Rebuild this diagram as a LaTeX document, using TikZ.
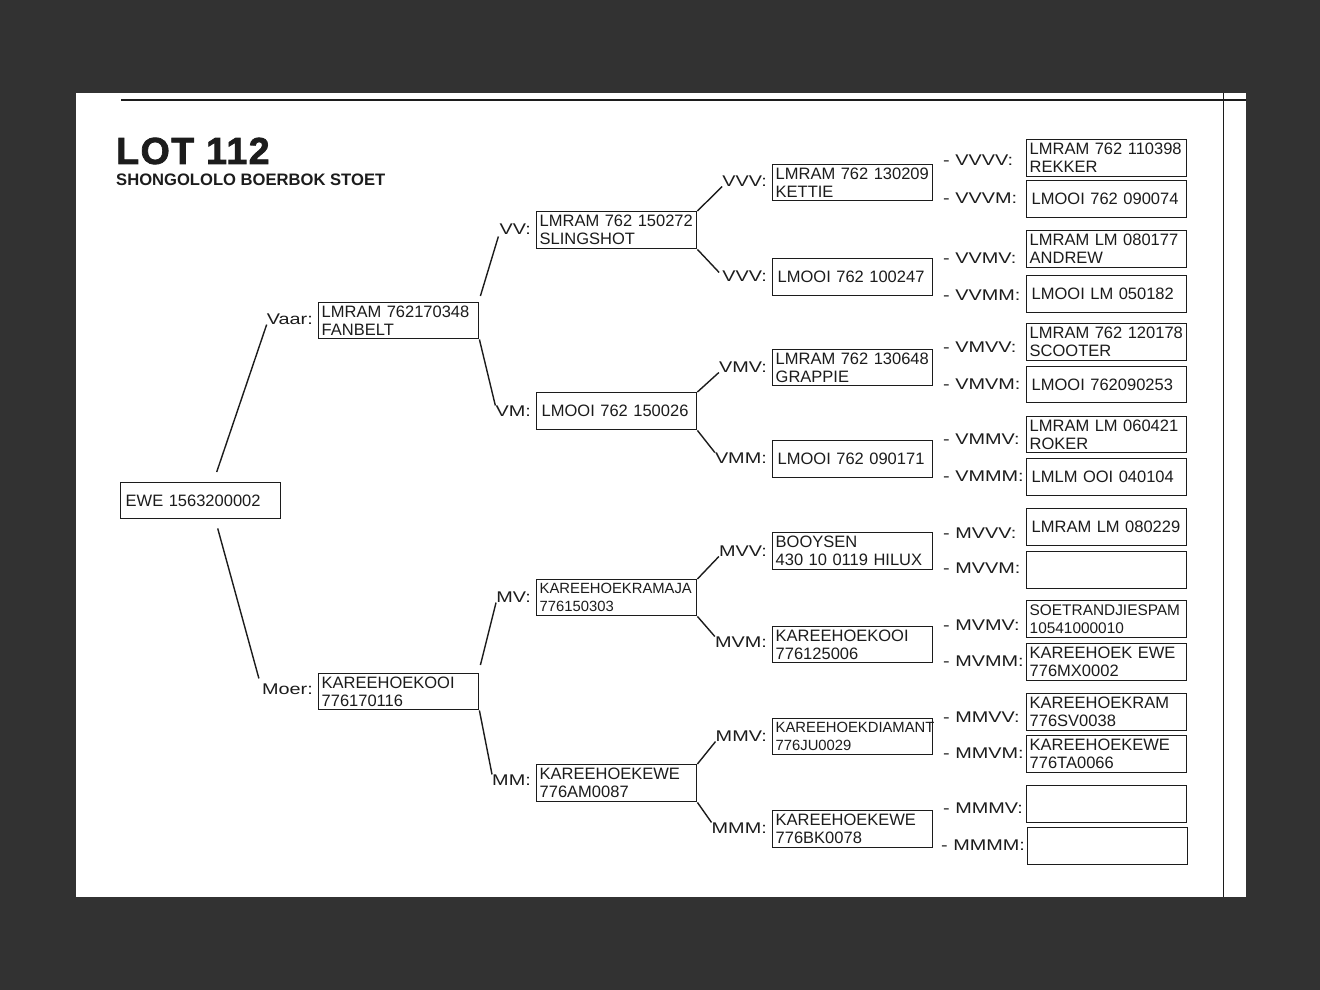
\documentclass[tikz,border=0pt]{standalone}
\usepackage{fontspec}
\setmainfont{Liberation Sans}
\newfontfamily\lblfont[FakeStretch=1.28]{Liberation Sans}
\newfontfamily\heavyfont{Liberation Sans}[BoldFeatures={FakeBold=2, LetterSpace=4}]
\usetikzlibrary{calc}
\definecolor{viewer}{RGB}{50,50,50}
\definecolor{ink}{RGB}{28,28,28}

\begin{document}
\begin{tikzpicture}[x=1pt, y=-1pt,
    box/.style={rectangle, draw=ink, line width=1.4pt, anchor=north west, minimum width=160pt, minimum height=37pt, text width=154pt, inner xsep=3pt, inner ysep=0pt, align=left, font=\fontsize{16.5}{18}\selectfont, text=ink},
    one/.style={inner xsep=5pt, text width=150pt},
    small/.style={font=\fontsize{14.8}{18}\selectfont},
    tag/.style={inner sep=0pt, font=\lblfont\fontsize{15.5}{18}\selectfont, text=ink},
    link/.style={draw=ink, line width=1.4pt},
]

% viewer and page
\fill[viewer] (0,0) rectangle (1320,990);
\fill[white] (76,93) rectangle (1246,897);
\draw[ink, line width=2pt] (121,100) -- (1246,100);
\draw[ink, line width=1pt] (1223,93) -- (1223,897);

% title
\node[anchor=west, inner sep=0pt, font=\heavyfont\bfseries\fontsize{37.5}{40}\selectfont, text=ink] (lot) at (116,151) {LOT 112};
\node[anchor=west, inner sep=0pt, font=\bfseries\fontsize{16.6}{18}\selectfont, text=ink] (stud) at (116,180) {SHONGOLOLO BOERBOK STOET};

% animal
\node[box, one, minimum height=36pt] (ewe) at (120,482) {EWE 1563200002};

% parents
\node[box, minimum height=36pt] (vaar) at (318,302) {LMRAM 762170348\\FANBELT};
\node[box, minimum height=36pt] (moer) at (318,673) {KAREEHOEKOOI\\776170116};
\node[tag, anchor=east] (lvaar) at (313,319) {Vaar:};
\node[tag, anchor=east] (lmoer) at (313,689) {Moer:};

% grandparents
\node[box] (vv) at (536,211) {LMRAM 762 150272\\SLINGSHOT};
\node[box, one] (vm) at (536,392) {LMOOI 762 150026};
\node[box, small, minimum height=36pt] (mv) at (536,579) {KAREEHOEKRAMAJA\\776150303};
\node[box] (mm) at (536,764) {KAREEHOEKEWE\\776AM0087};
\node[tag, anchor=east] (lvv) at (531,229) {VV:};
\node[tag, anchor=east] (lvm) at (531,411) {VM:};
\node[tag, anchor=east] (lmv) at (531,597) {MV:};
\node[tag, anchor=east] (lmm) at (531,780) {MM:};

% great-grandparents
\node[box, minimum height=36pt] (vvv) at (772,164) {LMRAM 762 130209\\KETTIE};
\node[box, one] (vvm) at (772,258) {LMOOI 762 100247};
\node[box, minimum height=36pt] (vmv) at (772,349) {LMRAM 762 130648\\GRAPPIE};
\node[box, one] (vmm) at (772,440) {LMOOI 762 090171};
\node[box] (mvv) at (772,532) {BOOYSEN\\430 10 0119 HILUX};
\node[box, minimum height=36pt] (mvm) at (772,626) {KAREEHOEKOOI\\776125006};
\node[box, small, minimum height=36pt] (mmv) at (772,718) {KAREEHOEKDIAMANT\\776JU0029};
\node[box] (mmm) at (772,810) {KAREEHOEKEWE\\776BK0078};
\node[tag, anchor=east] (lvvv) at (767,181) {VVV:};
\node[tag, anchor=east] (lvvm) at (767,276) {VVV:};
\node[tag, anchor=east] (lvmv) at (767,367) {VMV:};
\node[tag, anchor=east] (lvmm) at (767,458) {VMM:};
\node[tag, anchor=east] (lmvv) at (767,551) {MVV:};
\node[tag, anchor=east] (lmvm) at (767,642) {MVM:};
\node[tag, anchor=east] (lmmv) at (767,736) {MMV:};
\node[tag, anchor=east] (lmmm) at (767,828) {MMM:};

% great-great-grandparents
\node[box] (vvvv) at (1026,139) {LMRAM 762 110398\\REKKER};
\node[box, one] (vvvm) at (1026,180) {LMOOI 762 090074};
\node[box] (vvmv) at (1026,230) {LMRAM LM 080177\\ANDREW};
\node[box, one] (vvmm) at (1026,275) {LMOOI LM 050182};
\node[box] (vmvv) at (1026,323) {LMRAM 762 120178\\SCOOTER};
\node[box, one, minimum height=36pt] (vmvm) at (1026,366) {LMOOI 762090253};
\node[box, minimum height=36pt] (vmmv) at (1026,416) {LMRAM LM 060421\\ROKER};
\node[box, one] (vmmm) at (1026,458) {LMLM OOI 040104};
\node[box, one] (mvvv) at (1026,508) {LMRAM LM 080229};
\node[box] (mvvm) at (1026,551) {};
\node[box, font=\fontsize{15.4}{18}\selectfont] (mvmv) at (1026,600) {SOETRANDJIESPAM\\10541000010};
\node[box] (mvmm) at (1026,643) {KAREEHOEK EWE\\776MX0002};
\node[box] (mmvv) at (1026,693) {KAREEHOEKRAM\\776SV0038};
\node[box] (mmvm) at (1026,735) {KAREEHOEKEWE\\776TA0066};
\node[box] (mmmv) at (1026,785) {};
\node[box] (mmmm) at (1027,827) {};
\node[tag, anchor=west] (lvvvv) at (943,160) {- VVVV:};
\node[tag, anchor=west] (lvvvm) at (943,198) {- VVVM:};
\node[tag, anchor=west] (lvvmv) at (943,258) {- VVMV:};
\node[tag, anchor=west] (lvvmm) at (943,295) {- VVMM:};
\node[tag, anchor=west] (lvmvv) at (943,347) {- VMVV:};
\node[tag, anchor=west] (lvmvm) at (943,384) {- VMVM:};
\node[tag, anchor=west] (lvmmv) at (943,439) {- VMMV:};
\node[tag, anchor=west] (lvmmm) at (943,476) {- VMMM:};
\node[tag, anchor=west] (lmvvv) at (943,533) {- MVVV:};
\node[tag, anchor=west] (lmvvm) at (943,568) {- MVVM:};
\node[tag, anchor=west] (lmvmv) at (943,625) {- MVMV:};
\node[tag, anchor=west] (lmvmm) at (943,661) {- MVMM:};
\node[tag, anchor=west] (lmmvv) at (943,717) {- MMVV:};
\node[tag, anchor=west] (lmmvm) at (943,753) {- MMVM:};
\node[tag, anchor=west] (lmmmv) at (943,808) {- MMMV:};
\node[tag, anchor=west] (lmmmm) at (941,845) {- MMMM:};

% branches
\draw[link] ($(ewe.north)+(16,-10)$) -- (lvaar.south west);
\draw[link] ($(ewe.south)+(17,9)$) -- ($(lmoer.north west)+(-3,-5)$);
\draw[link] ($(vaar.north east)+(1,-6)$) -- ($(lvv.south west)+(-1,2)$);
\draw[link] (vaar.south east) -- (lvm.north west);
\draw[link] ($(moer.north east)+(1,-8)$) -- (lmv.south west);
\draw[link] (moer.south east) -- (lmm.north west);
\draw[link] (vv.north east) -- (lvvv.south west);
\draw[link] (vv.south east) -- ($(lvvm.north west)+(-3,2)$);
\draw[link] (vm.north east) -- (lvmv.south west);
\draw[link] (vm.south east) -- (lvmm.north west);
\draw[link] (mv.north east) -- (lmvv.south west);
\draw[link] (mv.south east) -- (lmvm.north west);
\draw[link] (mm.north east) -- (lmmv.south west);
\draw[link] (mm.south east) -- (lmmm.north west);

\end{tikzpicture}
\end{document}
